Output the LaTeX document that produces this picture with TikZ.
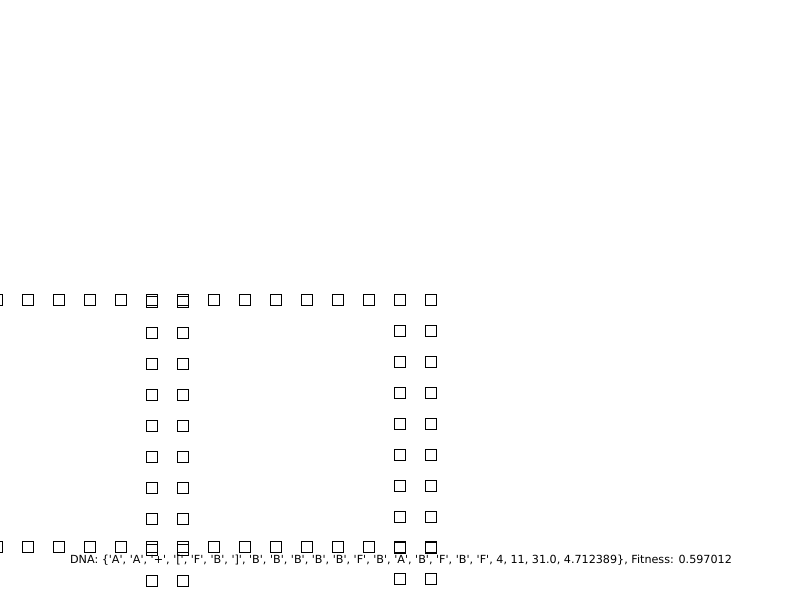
\documentclass[tikz,border=0pt]{standalone}
\usepackage{fontspec}
\usetikzlibrary{positioning}
\newfontfamily\dnafont{DejaVu Sans}
\newcommand{\qs}[1]{\textquotesingle#1\textquotesingle}
\tikzset{
  cell/.style={draw=black, line width=0.6pt, fill=none, minimum size=0.22cm,
    inner sep=0pt, outer sep=0pt},
  dnatext/.style={font=\dnafont\fontsize{6.36}{7}\selectfont, inner sep=0pt,
    text=black}
}
\begin{document}
\begin{tikzpicture}[x=0.02cm, y=-0.02cm]
  \useasboundingbox (0,0) rectangle (800,600);
  \clip (0,0) rectangle (800,600);
  % top and bottom rows
  \foreach \i in {0,...,14} {
    \node[cell] (top\i) at (-3+31*\i,300) {};
    \node[cell] (bot\i) at (-3+31*\i,547) {};
  }
  % vertical columns
  \foreach \j in {0,...,9} {
    \node[cell] (la\j) at (152,302+31*\j) {};
    \node[cell] (lb\j) at (183,302+31*\j) {};
    \node[cell] (ra\j) at (400,300+31*\j) {};
    \node[cell] (rb\j) at (431,300+31*\j) {};
  }
  \node[dnatext] (dna) at (401,560) {DNA: \{\qs{A}, \qs{A}, \qs{+}, \qs{[}, \qs{F}, \qs{B}, \qs{]}, \qs{B}, \qs{B}, \qs{B}, \qs{B}, \qs{B}, \qs{F}, \qs{B}, \qs{A}, \qs{B}, \qs{F}, \qs{B}, \qs{F}, 4, 11, 31.0, 4.712389\}, Fitness: 0.597012};
\end{tikzpicture}
\end{document}
